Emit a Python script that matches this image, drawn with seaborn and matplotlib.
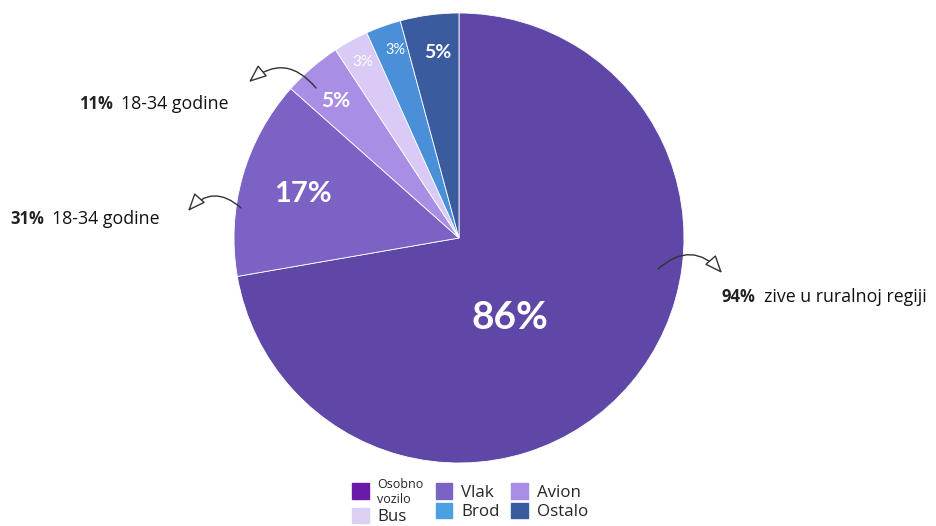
import numpy as np
import matplotlib
matplotlib.use("Agg")
import matplotlib.pyplot as plt
import matplotlib.patches as mpatches
import seaborn as sns

# data
categories = ["Osobno vozilo", "Vlak", "Avion", "Bus", "Brod", "Ostalo"]
legend_labels = ["Osobno\nvozilo", "Vlak", "Avion", "Bus", "Brod", "Ostalo"]
values = [86, 17, 5, 3, 3, 5]
pie_colors = ["#5f47a8", "#7c62c4", "#a98ee6", "#d9cbf5", "#4a90d9", "#3b5b9f"]
legend_colors = ["#6a1aa8", "#7c62c4", "#a98ee6", "#dcd0f0", "#4aa0e0", "#3b5b9f"]

callout_pct = ["11%", "31%", "94%"]
callout_text = ["18-34 godine", "18-34 godine", "zive u ruralnoj regiji"]

sns.set_theme(style="white")
plt.rcParams["font.family"] = ["Lato", "DejaVu Sans"]

W, H = 936, 526
fig = plt.figure(figsize=(W / 100, H / 100), dpi=100)
cx, cy, R = 459, 238, 225
ax = fig.add_axes([(cx - R) / W, (H - cy - R) / H, 2 * R / W, 2 * R / H])

wedges, _ = ax.pie(values, colors=pie_colors, startangle=90, counterclock=False,
                   radius=1.0, wedgeprops=dict(linewidth=0.6, edgecolor="white"))
ax.set_xlim(-1, 1)
ax.set_ylim(-1, 1)
ax.set_aspect("equal")
ax.axis("off")

# label radius / angle tweak / size per slice
lab_r = [0.42, 0.72, 0.82, 0.89, 0.88, 0.83]
lab_da = [-17, 0, 1, 0, -1, -1]
lab_fs = [28, 21, 15, 11, 10.5, 14]
for w, v, r, da, fs in zip(wedges, values, lab_r, lab_da, lab_fs):
    a = np.deg2rad((w.theta1 + w.theta2) / 2 + da)
    ax.text(r * np.cos(a), r * np.sin(a), f"{v}%", ha="center", va="center",
            color="white", fontsize=fs, fontweight="bold" if fs > 12 else "normal")

# callouts (figure pixel coords)
def px(x, y):
    return (x / W, 1 - y / H)

arrow_kw = dict(arrowstyle="-|>,head_length=1.1,head_width=0.45", fc="white",
                ec="#333333", lw=1.0, shrinkA=0, shrinkB=0, mutation_scale=10)
fig.add_artist(mpatches.FancyArrowPatch(px(316, 88), px(249, 82), transform=fig.transFigure,
               connectionstyle="arc3,rad=0.5", **arrow_kw))
fig.add_artist(mpatches.FancyArrowPatch(px(241, 208), px(188, 211), transform=fig.transFigure,
               connectionstyle="arc3,rad=0.5", **arrow_kw))
fig.add_artist(mpatches.FancyArrowPatch(px(658, 269), px(722, 273), transform=fig.transFigure,
               connectionstyle="arc3,rad=-0.5", **arrow_kw))

txt_pos = [(79, 104), (10, 219), (722, 297)]
for (x, y), p, t in zip(txt_pos, callout_pct, callout_text):
    tp = fig.text(*px(x, y), p, fontsize=12, fontweight="bold", color="#222222",
                  va="center", ha="left", family=["Open Sans", "DejaVu Sans"])
    fig.canvas.draw()
    bb = tp.get_window_extent()
    fig.text(bb.x1 / W + 8 / W, 1 - y / H, t, fontsize=12.8, color="#111111",
             va="center", ha="left", family=["Open Sans", "DejaVu Sans"])

# legend row-wise (ncol=3 fills column-wise)
handles = [mpatches.Patch(color=c, label=l) for c, l in zip(legend_colors, legend_labels)]
idx = [0, 3, 1, 4, 2, 5]
leg = fig.legend([handles[i] for i in idx], [legend_labels[i] for i in idx],
                 ncol=3, loc="upper center", bbox_to_anchor=(470 / W, 1 - 466 / H),
                 frameon=False, handlelength=1.0, handleheight=1.0,
                 handletextpad=0.5, columnspacing=0.7, labelspacing=0.1,
                 borderpad=0.2,
                 prop={"family": ["Open Sans", "DejaVu Sans"], "size": 12.2})
for t in leg.get_texts():
    if "\n" in t.get_text():
        t.set_fontsize(9)

fig.savefig("out.png", dpi=100)
